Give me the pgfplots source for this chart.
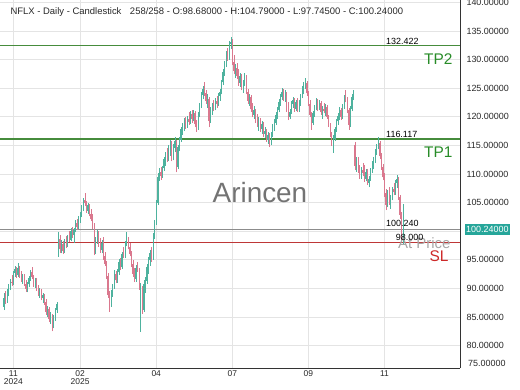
\documentclass[border=0pt]{standalone}
\usepackage{pgfplots}
\pgfplotsset{compat=1.18}
\usepackage{pgfplotstable}
\usepackage{fontspec}
\setmainfont{Liberation Sans}
\definecolor{upc}{RGB}{78,178,158}
\definecolor{dnc}{RGB}{218,120,142}
\definecolor{tpline}{RGB}{70,140,60}
\definecolor{tptext}{RGB}{40,140,40}
\definecolor{slline}{RGB}{190,55,55}
\definecolor{sltext}{RGB}{205,40,40}
\definecolor{pxline}{RGB}{140,140,140}
\definecolor{hilite}{RGB}{38,166,154}
\definecolor{gridc}{RGB}{228,228,228}
\definecolor{txt}{RGB}{40,40,40}

\pgfplotstableread{
o h l c
86.8 89.2 86.2 88.4
88.4 89.6 87.3 87.9
87.9 89.9 87.5 89.5
89.5 90.8 88.6 90.3
90.3 91.6 89.7 91.2
91.2 92.4 90.5 90.9
90.9 93.1 90.6 92.7
92.7 94.0 92.0 93.4
93.4 93.8 91.8 92.3
92.3 94.4 92.0 93.6
93.6 93.9 91.9 92.4
92.4 93.0 91.2 91.6
91.6 92.6 90.8 92.1
92.1 92.5 90.4 90.8
90.8 91.5 89.4 89.9
89.9 91.2 89.3 90.7
90.7 92.1 90.2 91.8
91.8 93.2 91.3 92.9
92.9 93.7 91.6 92.0
92.0 92.4 90.3 90.7
90.7 91.9 90.1 91.5
91.5 91.8 89.6 90.0
90.0 90.6 88.7 89.1
89.1 90.1 88.4 89.6
89.6 89.9 87.9 88.3
88.3 89.2 87.5 88.8
88.8 89.0 87.1 87.6
87.6 88.1 85.4 85.9
85.9 87.0 85.0 86.4
86.4 86.7 84.1 84.6
84.6 85.9 83.8 85.3
85.3 85.6 82.5 83.4
83.4 85.4 83.0 85.0
85.0 86.6 84.3 86.2
86.2 87.6 85.7 87.2
96.0 99.9 95.5 98.6
98.6 99.3 96.2 96.9
96.9 98.4 96.1 97.8
97.8 98.3 96.0 96.5
96.5 98.6 96.2 98.1
98.1 99.2 97.1 97.6
97.6 99.4 97.2 99.0
99.0 100.1 98.1 98.5
98.5 100.5 98.2 100.1
100.1 100.8 98.8 99.3
99.3 100.6 97.9 100.2
100.2 101.9 99.8 101.5
101.5 102.1 100.2 100.7
100.7 102.6 100.4 102.2
102.2 103.4 101.5 103.0
103.0 104.5 102.4 104.1
104.1 105.8 103.6 105.4
105.4 106.7 104.4 104.9
104.9 105.3 103.2 103.6
103.6 105.0 103.0 104.5
104.5 104.8 102.6 103.0
103.0 103.9 101.7 102.1
102.1 103.0 100.4 100.8
100.8 101.4 95.8 96.5
96.5 98.9 96.0 98.3
98.3 100.2 97.8 99.6
99.6 100.0 97.3 97.7
97.7 98.8 96.2 96.7
96.7 98.4 96.1 97.9
97.9 99.0 95.0 95.6
95.6 96.4 93.9 94.3
94.3 94.8 91.6 92.1
92.1 92.7 88.4 88.9
88.9 89.6 85.9 87.2
87.2 89.7 86.8 89.3
89.3 90.8 88.5 90.2
90.2 93.2 89.9 92.6
92.6 93.0 90.9 91.4
91.4 93.4 91.0 92.8
92.8 95.1 92.4 94.6
94.6 95.3 93.2 93.7
93.7 96.4 93.4 96.0
96.0 97.2 95.3 95.7
95.7 98.3 95.3 97.9
97.9 99.9 97.4 98.6
98.6 99.0 96.8 97.3
97.3 97.9 95.6 96.0
96.0 96.5 93.8 94.2
94.2 94.9 92.0 92.5
92.5 93.6 91.1 91.6
91.6 94.1 91.2 93.5
93.5 94.6 92.9 93.0
93.0 93.5 89.8 90.3
86.0 91.0 82.4 89.0
89.0 90.4 85.6 86.3
86.3 91.5 85.9 90.8
90.8 92.0 89.2 91.3
91.3 94.2 90.8 93.7
93.7 95.4 92.5 94.9
94.9 96.7 94.0 96.2
96.2 97.3 94.6 95.4
95.4 99.6 95.0 99.1
99.1 102.0 98.6 101.5
101.5 105.5 101.1 105.0
105.0 110.2 104.6 109.4
109.4 111.0 108.8 110.4
110.4 111.2 109.0 109.6
109.6 111.4 109.3 111.0
111.0 113.0 110.6 112.6
112.6 113.8 111.4 113.3
113.3 114.6 112.1 112.7
112.7 115.0 112.3 114.5
114.5 116.0 113.2 115.3
115.3 115.7 112.2 112.8
112.8 115.2 112.4 114.6
114.6 116.4 113.8 115.8
115.8 116.0 110.3 111.2
111.2 115.1 110.8 114.7
114.7 116.5 114.0 116.0
116.0 118.3 115.6 117.8
117.8 119.0 116.9 118.4
118.4 119.8 117.5 119.3
119.3 120.0 117.9 118.6
118.6 120.2 118.1 119.7
119.7 120.9 118.6 119.1
119.1 121.0 118.7 120.5
120.5 121.2 119.0 119.6
119.6 121.1 119.2 120.6
120.6 121.0 118.2 118.7
118.7 119.4 117.4 118.0
118.0 120.8 117.7 120.3
120.3 122.4 119.9 121.9
121.9 124.3 121.5 123.8
123.8 125.4 123.1 124.9
124.9 126.1 123.7 124.2
124.2 124.6 122.3 122.8
122.8 123.9 121.6 123.1
123.1 123.5 118.2 119.3
119.3 121.7 118.9 121.2
121.2 122.4 120.4 122.0
122.0 123.0 121.0 121.5
121.5 123.2 121.1 122.8
122.8 123.6 121.6 122.2
122.2 124.2 121.8 123.7
123.7 124.8 122.8 124.3
124.3 126.4 123.9 126.0
126.0 128.4 125.6 127.9
127.9 129.8 127.2 129.2
129.2 131.5 128.7 130.9
130.9 132.0 129.8 130.4
130.4 133.2 130.0 132.7
132.7 134.0 131.9 133.1
133.1 133.6 129.0 129.6
129.6 130.8 127.4 128.0
128.0 129.2 126.8 128.6
128.6 129.4 126.6 127.1
127.1 128.3 125.4 125.9
125.9 127.6 125.2 127.1
127.1 127.5 124.6 125.1
125.1 126.4 124.2 125.8
125.8 127.7 125.3 127.1
127.1 127.3 123.9 124.4
124.4 124.9 122.3 122.8
122.8 124.0 121.9 123.5
123.5 123.8 120.8 121.3
121.3 122.4 119.9 120.4
120.4 121.8 119.6 121.1
121.1 121.4 118.9 119.4
119.4 120.5 118.3 118.8
118.8 119.9 117.6 119.5
119.5 119.8 117.4 117.9
117.9 119.3 117.0 118.8
118.8 119.1 116.5 117.0
117.0 118.2 116.3 117.6
117.6 117.9 115.6 116.0
116.0 117.4 115.2 116.8
116.8 117.1 114.7 115.3
115.3 117.3 115.0 116.9
116.9 118.8 116.5 118.3
118.3 119.6 117.6 119.0
119.0 120.9 118.6 120.4
120.4 121.7 119.7 121.2
121.2 123.1 120.8 122.6
122.6 124.0 121.9 123.5
123.5 125.0 123.0 124.4
124.4 124.8 122.8 123.3
123.3 124.6 122.6 124.0
124.0 124.3 120.9 121.3
121.3 122.6 119.4 119.9
119.9 121.3 119.6 120.9
120.9 122.8 120.5 122.3
122.3 123.5 121.6 123.0
123.0 123.3 120.9 121.4
121.4 122.9 121.0 122.5
122.5 123.2 120.8 121.3
121.3 122.9 120.9 122.4
122.4 124.0 121.9 123.6
123.6 125.4 123.2 124.9
124.9 126.0 123.9 125.5
125.5 126.8 124.8 125.9
125.9 126.2 123.6 124.1
124.1 124.5 121.8 122.2
122.2 122.9 119.9 120.4
120.4 120.8 117.7 118.9
118.9 121.0 118.6 120.6
120.6 122.0 120.0 121.5
121.5 123.3 121.1 122.8
122.8 123.1 121.0 121.5
121.5 122.9 121.1 122.4
122.4 122.7 120.4 120.8
120.8 121.9 119.6 121.3
121.3 122.4 120.6 121.0
121.0 122.2 120.1 121.7
121.7 122.0 119.6 120.0
120.0 120.4 118.2 118.6
118.6 119.0 116.4 116.9
116.9 117.3 114.9 115.3
115.3 116.8 113.7 116.2
116.2 118.3 115.8 117.9
117.9 119.7 117.4 119.2
119.2 120.6 118.6 120.1
120.1 121.7 119.4 121.2
121.2 121.5 119.5 120.0
120.0 122.3 119.6 121.9
121.9 123.8 121.4 123.3
123.3 124.7 122.5 123.0
123.0 123.4 120.6 121.1
121.1 121.5 117.7 118.6
118.6 121.8 118.2 121.4
121.4 123.9 121.0 123.5
123.5 124.7 122.9 124.1
115.0 115.6 110.7 111.4
111.4 112.9 110.4 112.3
112.3 113.0 110.2 110.6
110.6 111.6 109.1 109.6
109.6 111.2 109.2 110.7
110.7 111.9 109.6 110.1
110.1 111.5 108.6 109.2
109.2 110.9 108.7 110.4
110.4 110.8 108.1 108.5
108.5 109.7 107.7 109.2
109.2 111.0 108.8 110.6
110.6 112.2 110.2 111.7
111.7 113.0 110.9 112.5
112.5 114.3 112.0 113.8
113.8 115.3 113.3 114.9
114.9 116.5 114.3 115.4
115.4 115.8 112.6 113.1
113.1 113.6 110.7 111.2
111.2 111.7 108.9 109.4
109.4 110.2 106.0 106.6
106.6 107.3 103.7 104.6
104.6 107.2 104.2 106.6
106.6 107.7 104.6 105.1
105.1 106.4 103.9 105.9
105.9 107.8 105.4 107.3
107.3 108.5 106.3 106.8
106.8 108.9 106.4 108.4
108.4 109.8 107.6 109.1
109.1 109.5 105.5 105.9
105.9 106.3 102.2 102.8
102.8 103.4 98.3 98.9
98.68 104.79 97.745 100.24
}\ohlc

\pgfplotsset{ohlcbar/.style 2 args={draw=none, no markers, forget plot, restrict y to domain=0:1000,
  error bars/.cd, y dir=plus, y explicit, error mark=none,
  error bar style={draw=#1, line width=#2}}}

\begin{document}
\begin{tikzpicture}
\begin{axis}[name=ax, scale only axis, width=460bp, height=368bp,
  xmin=-2.6, xmax=293.6, ymin=76.08, ymax=140.42,
  axis x line*=bottom, axis y line*=right,
  axis line style={draw=black!80, line width=0.8pt},
  clip=false,
  major tick length=0pt,
  grid=major, major grid style={gridc, line width=0.6pt},
  xtick={6,49,98,147,196,245},
  xticklabels={{11\\2024},{02\\2025},04,07,09,11},
  xticklabel style={align=center, font=\fontsize{8.5}{8.5}\selectfont, text=txt, yshift=1bp},
  ytick={80,85,90,95,100,105,110,115,120,125,130,135,140},
  yticklabels={80.00000,85.00000,90.00000,95.00000,100.00000,105.00000,110.00000,115.00000,120.00000,125.00000,130.00000,135.00000,140.00000},
  yticklabel style={font=\fontsize{9}{9}\selectfont, text=txt, anchor=west, xshift=3bp},
]
% horizontal level lines
\addplot[draw=tpline, line width=1.1pt, no markers, forget plot] coordinates {(-2.6,132.422) (293.6,132.422)};
\addplot[draw=tpline, line width=1.1pt, no markers, forget plot] coordinates {(-2.6,116.117) (293.6,116.117)};
\addplot[draw=pxline, line width=0.9pt, no markers, forget plot] coordinates {(-2.6,100.24) (293.6,100.24)};
\addplot[draw=slline, line width=1.0pt, no markers, forget plot] coordinates {(-2.6,98.0) (293.6,98.0)};

% up wicks / bodies
\addplot[ohlcbar={upc}{0.55pt}]
  table[x expr=\coordindex, y expr={\thisrow{c}>=\thisrow{o} ? \thisrow{l} : -500},
        y error plus expr={\thisrow{h}-\thisrow{l}}] {\ohlc};
\addplot[ohlcbar={upc}{1.2pt}]
  table[x expr=\coordindex, y expr={\thisrow{c}>=\thisrow{o} ? \thisrow{o} : -500},
        y error plus expr={\thisrow{c}-\thisrow{o}}] {\ohlc};
% down wicks / bodies
\addplot[ohlcbar={dnc}{0.55pt}]
  table[x expr=\coordindex, y expr={\thisrow{c}<\thisrow{o} ? \thisrow{l} : -500},
        y error plus expr={\thisrow{h}-\thisrow{l}}] {\ohlc};
\addplot[ohlcbar={dnc}{1.2pt}]
  table[x expr=\coordindex, y expr={\thisrow{c}<\thisrow{o} ? \thisrow{c} : -500},
        y error plus expr={\thisrow{o}-\thisrow{c}}] {\ohlc};

% texts
\node[text=black!55, font=\fontsize{28}{28}\selectfont] at (axis cs:164.8,106.7) {Arincen};
\node[anchor=west, text=txt, font=\fontsize{9.5}{9.5}\selectfont] at ([xshift=7bp,yshift=-12bp]rel axis cs:0,1)
  {NFLX - Daily - Candlestick\hspace{0.9em}258/258 - O:98.68000 - H:104.79000 - L:97.74500 - C:100.24000};
\node[anchor=south west, inner sep=1bp, font=\fontsize{9}{9}\selectfont] at (axis cs:245.3,132.5) {132.422};
\node[anchor=south west, inner sep=1bp, font=\fontsize{9}{9}\selectfont] at (axis cs:245.3,116.2) {116.117};
\node[anchor=east, text=tptext, font=\fontsize{15.5}{15.5}\selectfont] at ([xshift=-4bp]axis cs:293.6,130.1) {TP2};
\node[anchor=east, text=tptext, font=\fontsize{15.5}{15.5}\selectfont] at ([xshift=-4bp]axis cs:293.6,113.85) {TP1};
\node[anchor=east, text=black!35, font=\fontsize{15}{15}\selectfont] at ([xshift=-6bp]axis cs:293.6,97.94) {At Price};
\node[anchor=south west, inner sep=1bp, font=\fontsize{9}{9}\selectfont] at (axis cs:245.3,100.55) {100.240};
\node[anchor=south west, inner sep=1bp, font=\fontsize{9}{9}\selectfont] at (axis cs:251.5,98.2) {98.000};
\node[anchor=east, text=sltext, font=\fontsize{15.5}{15.5}\selectfont] at ([xshift=-8bp]axis cs:293.6,95.66) {SL};
\node[anchor=west, fill=hilite, text=white, inner xsep=1.5bp, inner ysep=2.5bp, font=\fontsize{9}{9}\selectfont] at ([xshift=4.5bp]axis cs:293.6,100.24) {100.24000};
\node[anchor=west, text=txt, font=\fontsize{9}{9}\selectfont, inner sep=0pt] at ([xshift=8bp,yshift=5bp]rel axis cs:1,0) {75.00000};
\end{axis}
\pgfresetboundingbox
\path[use as bounding box] ([shift={(0bp,-22bp)}]ax.south west) rectangle ([shift={(520bp,368bp)}]ax.south west);
\end{tikzpicture}
\end{document}
